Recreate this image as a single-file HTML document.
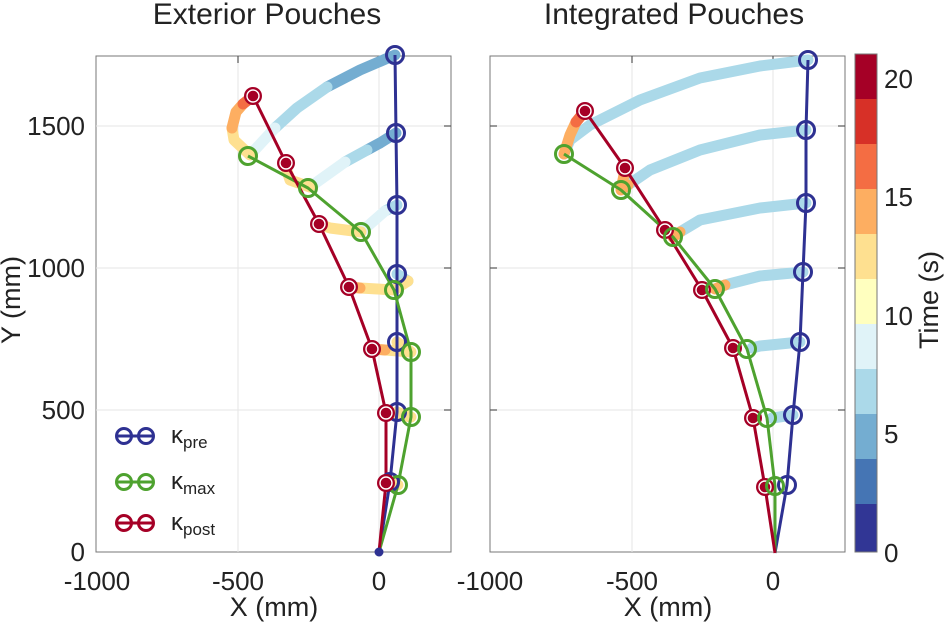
<!DOCTYPE html>
<html><head><meta charset="utf-8"><style>body{margin:0;background:#fff}svg{display:block;font-family:"Liberation Sans",Arial,sans-serif}</style></head><body>
<svg width="946" height="624" viewBox="0 0 946 624" xmlns="http://www.w3.org/2000/svg">
<defs>
<g id="mb"><circle r="8.5" fill="none" stroke="#2e3192" stroke-width="3"/></g>
<g id="mg"><circle r="8.5" fill="none" stroke="#4ea22f" stroke-width="3"/></g>
<g id="mr"><circle r="9" fill="#a50026"/><circle r="6" fill="none" stroke="#fff" stroke-width="1.4"/></g>
</defs>
<rect x="96" y="56" width="355" height="496" fill="#fff" stroke="#777" stroke-width="1"/>
<g stroke="#e6e6e6" stroke-width="1">
<line x1="238" y1="56" x2="238" y2="552"/><line x1="379" y1="56" x2="379" y2="552"/>
<line x1="96" y1="126" x2="451" y2="126"/><line x1="96" y1="268" x2="451" y2="268"/><line x1="96" y1="410" x2="451" y2="410"/>
</g>
<rect x="490" y="56" width="355" height="496" fill="#fff" stroke="#777" stroke-width="1"/>
<g stroke="#e6e6e6" stroke-width="1">
<line x1="632" y1="56" x2="632" y2="552"/><line x1="773" y1="56" x2="773" y2="552"/>
<line x1="490" y1="126" x2="845" y2="126"/><line x1="490" y1="268" x2="845" y2="268"/><line x1="490" y1="410" x2="845" y2="410"/>
</g>
<g stroke="#555" stroke-width="1.2">
<line x1="238" y1="56" x2="238" y2="63"/><line x1="379" y1="56" x2="379" y2="63"/>
<line x1="444" y1="126" x2="451" y2="126"/><line x1="444" y1="268" x2="451" y2="268"/><line x1="444" y1="410" x2="451" y2="410"/>
<line x1="632" y1="56" x2="632" y2="63"/><line x1="773" y1="56" x2="773" y2="63"/>
<line x1="838" y1="126" x2="845" y2="126"/><line x1="838" y1="268" x2="845" y2="268"/><line x1="838" y1="410" x2="845" y2="410"/>
<line x1="490" y1="126" x2="497" y2="126"/><line x1="490" y1="268" x2="497" y2="268"/><line x1="490" y1="410" x2="497" y2="410"/>
</g>
<g fill="none" stroke-width="11" stroke-linecap="round" stroke-linejoin="round">
<polyline points="395,55 360,70 327,87" stroke="#74add1"/>
<polyline points="327,87 297,108 275,128" stroke="#abd9e9"/>
<polyline points="275,128 250,155" stroke="#e0f3f8"/>
<polyline points="250,155 234,140 232,128" stroke="#fee090"/>
<polyline points="232,128 236,112 243,104" stroke="#fdae61"/>
<polyline points="243,104 253,96" stroke="#f46d43"/>
<polyline points="396,133 380,143 367,150" stroke="#74add1"/>
<polyline points="367,150 345,162" stroke="#abd9e9"/>
<polyline points="345,162 310,187" stroke="#e0f3f8"/>
<polyline points="310,187 290,180 286,168" stroke="#fee090"/>
<polyline points="397,205 385,211" stroke="#abd9e9"/>
<polyline points="385,211 361,232" stroke="#e0f3f8"/>
<polyline points="361,232 330,228 319,224" stroke="#fee090"/>
<polyline points="397,274 408,281" stroke="#abd9e9"/>
<polyline points="408,281 394,290 360,288" stroke="#fee090"/>
<polyline points="360,288 349,287" stroke="#fdae61"/>
<polyline points="397,342 411,352 385,350" stroke="#fee090"/>
<polyline points="385,350 372,349" stroke="#fdae61"/>
<polyline points="397,412 411,417 386,413" stroke="#fee090"/>
<polyline points="390,482 398,485" stroke="#fee090"/>
</g>
<g fill="none" stroke-width="3" stroke-linejoin="round">
<polyline points="379,552 390,482 397,412 397,342 397,274 397,205 396,133 395,55" stroke="#2e3192"/>
<polyline points="379,552 398,485 411,417 411,352 394,290 361,232 308,188 248,156" stroke="#4ea22f"/>
<polyline points="379,552 386,483 386,413 372,349 349,287 319,224 286,163 253,96" stroke="#a50026"/>
</g>
<circle cx="379" cy="552" r="4.5" fill="#2e3192"/>
<use href="#mb" x="395" y="55"/><use href="#mb" x="396" y="133"/><use href="#mb" x="397" y="205"/><use href="#mb" x="397" y="274"/><use href="#mb" x="397" y="342"/><use href="#mb" x="397" y="412"/><use href="#mb" x="390" y="482"/>
<use href="#mg" x="248" y="156"/><use href="#mg" x="308" y="188"/><use href="#mg" x="361" y="232"/><use href="#mg" x="394" y="290"/><use href="#mg" x="411" y="352"/><use href="#mg" x="411" y="417"/><use href="#mg" x="398" y="485"/>
<use href="#mr" x="253" y="96"/><use href="#mr" x="286" y="163"/><use href="#mr" x="319" y="224"/><use href="#mr" x="349" y="287"/><use href="#mr" x="372" y="349"/><use href="#mr" x="386" y="413"/><use href="#mr" x="386" y="483"/>
<g fill="none" stroke-width="11" stroke-linecap="round" stroke-linejoin="round">
<polyline points="808,60 760,66 700,78 640,100 590,125 570,140 564,154" stroke="#abd9e9"/>
<polyline points="564,154 570,135 576,122" stroke="#fdae61"/>
<polyline points="576,122 585,111" stroke="#f46d43"/>
<polyline points="806,130 760,135 700,150 650,170 628,185" stroke="#abd9e9"/>
<polyline points="628,185 621,190 624,175" stroke="#fdae61"/>
<polyline points="806,203 760,208 700,220 680,232" stroke="#abd9e9"/>
<polyline points="680,232 673,237" stroke="#fdae61"/>
<polyline points="803,272 760,276 725,285" stroke="#abd9e9"/>
<polyline points="725,285 715,289" stroke="#fdae61"/>
<polyline points="800,342 760,346 752,348" stroke="#abd9e9"/>
<polyline points="793,415 772,418" stroke="#abd9e9"/>
</g>
<g fill="none" stroke-width="3" stroke-linejoin="round">
<polyline points="775,553 787,485 793,415 800,342 803,272 806,203 806,130 808,60" stroke="#2e3192"/>
<polyline points="775,553 775,486 767,418 747,349 715,289 673,237 621,190 564,154" stroke="#4ea22f"/>
<polyline points="775,553 765,487 753,418 733,348 702,290 665,230 625,168 585,111" stroke="#a50026"/>
</g>
<use href="#mb" x="808" y="60"/><use href="#mb" x="806" y="130"/><use href="#mb" x="806" y="203"/><use href="#mb" x="803" y="272"/><use href="#mb" x="800" y="342"/><use href="#mb" x="793" y="415"/><use href="#mb" x="787" y="485"/>
<use href="#mr" x="585" y="111"/><use href="#mr" x="625" y="168"/><use href="#mr" x="665" y="230"/><use href="#mr" x="702" y="290"/><use href="#mr" x="733" y="348"/><use href="#mr" x="753" y="418"/><use href="#mr" x="765" y="487"/>
<use href="#mg" x="564" y="154"/><use href="#mg" x="621" y="190"/><use href="#mg" x="673" y="237"/><use href="#mg" x="715" y="289"/><use href="#mg" x="747" y="349"/><use href="#mg" x="767" y="418"/><use href="#mg" x="775" y="486"/>
<g stroke-width="3" fill="none">
<line x1="116" y1="436" x2="153" y2="436" stroke="#2e3192"/><circle cx="124" cy="436" r="7.5" stroke="#2e3192"/><circle cx="146" cy="436" r="7.5" stroke="#2e3192"/>
<line x1="116" y1="482" x2="153" y2="482" stroke="#4ea22f"/><circle cx="124" cy="482" r="7.5" stroke="#4ea22f"/><circle cx="146" cy="482" r="7.5" stroke="#4ea22f"/>
<line x1="116" y1="523" x2="153" y2="523" stroke="#a50026"/><circle cx="124" cy="523" r="7.5" stroke="#a50026"/><circle cx="146" cy="523" r="7.5" stroke="#a50026"/>
</g>
<g font-size="24" fill="#222">
<text x="171" y="443">κ<tspan font-size="17" dy="5">pre</tspan></text>
<text x="171" y="489">κ<tspan font-size="17" dy="5">max</tspan></text>
<text x="171" y="530">κ<tspan font-size="17" dy="5">post</tspan></text>
</g>
<g>
<rect x="855" y="54" width="22" height="45" fill="#a50026"/>
<rect x="855" y="99" width="22" height="45" fill="#d73027"/>
<rect x="855" y="144" width="22" height="45" fill="#f46d43"/>
<rect x="855" y="189" width="22" height="45" fill="#fdae61"/>
<rect x="855" y="234" width="22" height="45" fill="#fee090"/>
<rect x="855" y="279" width="22" height="45" fill="#ffffbf"/>
<rect x="855" y="324" width="22" height="45" fill="#e0f3f8"/>
<rect x="855" y="369" width="22" height="45" fill="#abd9e9"/>
<rect x="855" y="414" width="22" height="45" fill="#74add1"/>
<rect x="855" y="459" width="22" height="45" fill="#4575b4"/>
<rect x="855" y="504" width="22" height="48" fill="#313695"/>
<rect x="855" y="54" width="22" height="498" fill="none" stroke="#777"/>
</g>
<g font-size="26" fill="#222">
<text x="884" y="88">20</text><text x="884" y="206">15</text><text x="884" y="325">10</text><text x="884" y="443">5</text><text x="884" y="562">0</text>
<text transform="translate(938,300) rotate(-90)" text-anchor="middle" font-size="27">Time (s)</text>
</g>
<g font-size="26" fill="#222" text-anchor="middle">
<text x="97" y="590">-1000</text><text x="238" y="590">-500</text><text x="379" y="590">0</text>
<text x="490" y="590">-1000</text><text x="632" y="590">-500</text><text x="773" y="590">0</text>
<text x="274" y="616" font-size="27">X (mm)</text><text x="668" y="616" font-size="27">X (mm)</text>
<text x="267" y="24" font-size="30">Exterior Pouches</text><text x="674" y="24" font-size="30">Integrated Pouches</text>
</g>
<g font-size="26" fill="#222" text-anchor="end">
<text x="85" y="135">1500</text><text x="85" y="277">1000</text><text x="85" y="419">500</text><text x="85" y="561">0</text>
</g>
<text transform="translate(20,300) rotate(-90)" text-anchor="middle" font-size="27" fill="#222">Y (mm)</text>
</svg>
</body></html>
